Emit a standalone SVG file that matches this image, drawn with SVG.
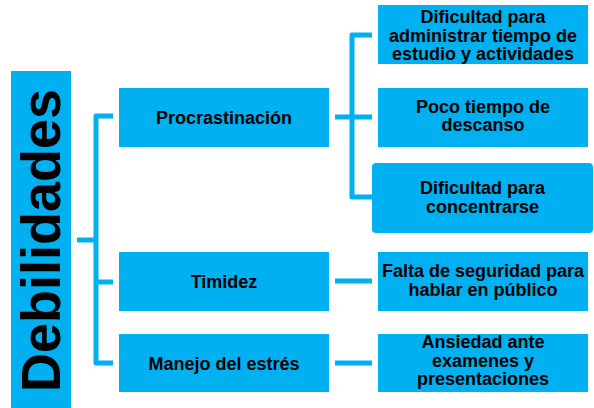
<svg xmlns="http://www.w3.org/2000/svg" width="594" height="408" viewBox="0 0 594 408">
<style>
.box{fill:#00B0F0;}
.t{font-family:"Liberation Sans",Arial,sans-serif;font-weight:bold;font-size:18px;fill:#000;text-anchor:middle;}
.c{fill:none;stroke:#00B0F0;stroke-width:5;stroke-linejoin:round;}
</style>
<rect width="594" height="408" fill="#fff"/>
<g id="connectors">
<path class="c" d="M77 240H96"/>
<path class="c" d="M113 116H96V363H113"/>
<path class="c" d="M96 282H113"/>
<path class="c" d="M372 35H352V197H372"/>
<path class="c" d="M335 117H372"/>
<path class="c" d="M335 281H372"/>
<path class="c" d="M335 363H372"/>
</g>
<g id="debilidades">
<rect class="box" x="11" y="71" width="60" height="337"/>
<text transform="translate(60,240.5) rotate(-90)" style="font-family:'Liberation Sans',Arial,sans-serif;font-weight:bold;font-size:56px;text-anchor:middle" textLength="303" lengthAdjust="spacingAndGlyphs">Debilidades</text>
</g>
<g id="procrastinacion">
<rect class="box" x="119" y="88" width="210" height="59"/>
<text class="t" x="224" y="124">Procrastinación</text>
</g>
<g id="timidez">
<rect class="box" x="119" y="252" width="210" height="59"/>
<text class="t" x="224" y="288">Timidez</text>
</g>
<g id="manejo">
<rect class="box" x="119" y="334" width="210" height="58"/>
<text class="t" x="224" y="369.5">Manejo del estrés</text>
</g>
<g id="dificultad-administrar">
<rect class="box" x="378" y="5" width="210" height="59"/>
<text class="t" x="483" y="23">Dificultad para</text>
<text class="t" x="483" y="41.5">administrar tiempo de</text>
<text class="t" x="483" y="60">estudio y actividades</text>
</g>
<g id="poco-tiempo">
<rect class="box" x="378" y="88" width="210" height="59"/>
<text class="t" x="483" y="112.5">Poco tiempo de</text>
<text class="t" x="483" y="131">descanso</text>
</g>
<g id="dificultad-concentrarse">
<rect class="box" x="372" y="163" width="221" height="70" rx="4"/>
<text class="t" x="482.5" y="194">Dificultad para</text>
<text class="t" x="482.5" y="212.5">concentrarse</text>
</g>
<g id="falta-seguridad">
<rect class="box" x="378" y="252" width="210" height="59"/>
<text class="t" x="483" y="277">Falta de seguridad para</text>
<text class="t" x="483" y="295.5">hablar en público</text>
</g>
<g id="ansiedad">
<rect class="box" x="378" y="334" width="210" height="58"/>
<text class="t" x="483" y="348">Ansiedad ante</text>
<text class="t" x="483" y="366.5">examenes y</text>
<text class="t" x="483" y="385">presentaciones</text>
</g>
</svg>
